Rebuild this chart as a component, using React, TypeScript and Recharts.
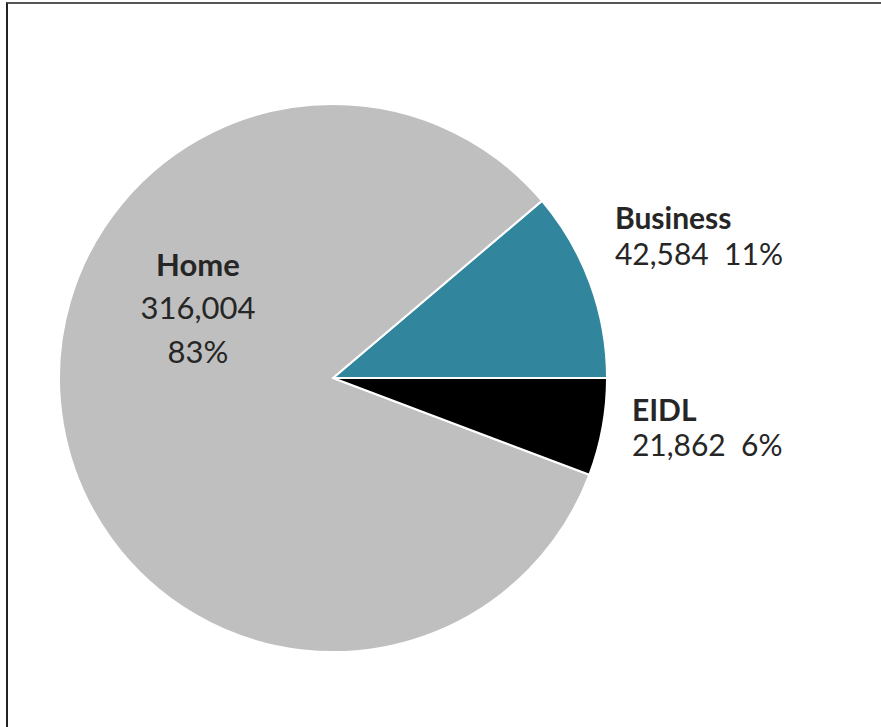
import { PieChart, Pie, Cell } from "recharts";

// slice order follows the reference: counter-clockwise from 3 o'clock
const categories = ["Business", "Home", "EIDL"];
const counts = [42584, 316004, 21862];
const sliceColors = ["#31859C", "#BFBFBF", "#000000"];

const pieData = categories.map((name, i) => ({ name, value: counts[i] }));

const FONT = "Lato, 'Open Sans', sans-serif";

function fmt(n: number) {
  return n.toLocaleString("en-US");
}

function renderLabel(props: any) {
  const { cx, cy, outerRadius, name, value, percent } = props;
  const r = outerRadius;
  const pct = Math.round(percent * 100) + "%";

  if (name === "Home") {
    const x = cx - 0.493 * r;
    return (
      <g fontFamily={FONT} fontSize={31} fill="#262626">
        <text x={x} y={cy - 0.372 * r} fontWeight="bold" textAnchor="middle">
          {name}
        </text>
        <text x={x} y={cy - 0.215 * r} textAnchor="middle">
          {fmt(value)}
        </text>
        <text x={x} y={cy - 0.055 * r} textAnchor="middle">
          {pct}
        </text>
      </g>
    );
  }

  const x = name === "Business" ? cx + 1.029 * r : cx + 1.091 * r;
  const y1 = name === "Business" ? cy - 0.544 * r : cy + 0.157 * r;
  const y2 = name === "Business" ? cy - 0.412 * r : cy + 0.285 * r;
  return (
    <g fontFamily={FONT} fontSize={30} fill="#262626">
      <text x={x} y={y1} fontWeight="bold" textAnchor="start">
        {name}
      </text>
      <text x={x} y={y2} textAnchor="start">
        {fmt(value) + "\u00a0 " + pct}
      </text>
    </g>
  );
}

export default function App() {
  return (
    <>
      <style>{"html,body{overflow:hidden}"}</style>
      {/* frame: only the top and left edges show in the source */}
      <div
        style={{
          position: "absolute",
          left: 6,
          top: 2,
          width: 875,
          height: 725,
          borderTop: "2px solid #555",
          borderLeft: "2px solid #222",
          boxSizing: "border-box",
          background: "#fff",
        }}
      >
        <PieChart width={873} height={723} margin={{ top: 0, right: 0, bottom: 0, left: 0 }}>
          <Pie
            data={pieData}
            dataKey="value"
            nameKey="name"
            cx={325}
            cy={374}
            outerRadius={274}
            startAngle={0}
            endAngle={360}
            stroke="#ffffff"
            strokeWidth={2}
            label={renderLabel}
            labelLine={false}
            isAnimationActive={false}
          >
            {pieData.map((d, i) => (
              <Cell key={d.name} fill={sliceColors[i]} />
            ))}
          </Pie>
        </PieChart>
      </div>
    </>
  );
}
